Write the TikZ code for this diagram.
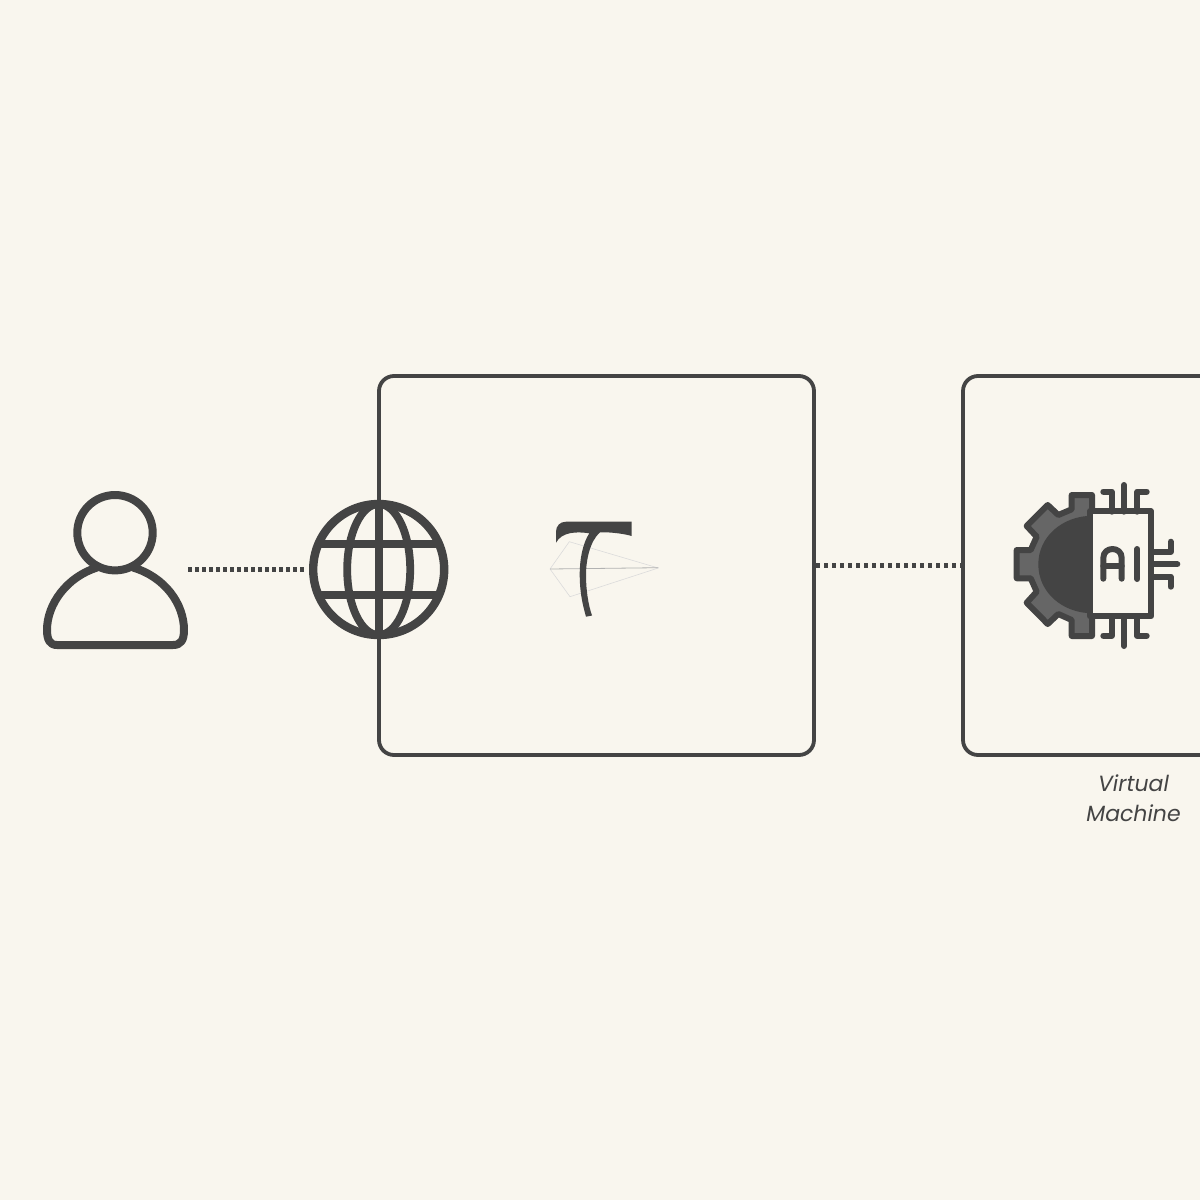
\documentclass[tikz,border=0pt]{standalone}
\usepackage{fontspec}
\setmainfont{Poppins}
\definecolor{paper}{HTML}{F9F6EE}
\definecolor{ink}{HTML}{444444}
\definecolor{gearfill}{HTML}{666666}
\begin{document}
\begin{tikzpicture}[x=1pt,y=-1pt,
  framebox/.style={draw=ink,line width=3.8pt,rounded corners=15pt,inner sep=0pt,outer sep=0pt,minimum height=379pt},
  dotline/.style={draw=ink,line width=4.4pt,dash pattern=on 4pt off 3pt},
  dotlinewide/.style={draw=ink,line width=4.4pt,dash pattern=on 4pt off 4pt},
  iconline/.style={draw=ink,line width=8pt,line join=round},
  globeline/.style={draw=ink,line width=7.8pt},
  chipline/.style={draw=ink,line width=6pt,line cap=round,line join=round},
  anchorbox/.style={inner sep=0pt,outer sep=0pt},
  plane/.style={line width=0.6pt,line join=round}]
\path[use as bounding box,fill=paper] (0,0) rectangle (1200,1200);
\clip (0,0) rectangle (1200,1200);
% frames
\node[framebox,minimum width=435pt] (box1) at (596.5,565.5) {};
\node[framebox,minimum width=435pt] (box2) at (1180.5,565.5) {};
% invisible extents of the icons
\node[anchorbox,minimum width=146pt,minimum height=160pt] (person) at (115.2,569.5) {};
\node[anchorbox,circle,minimum size=147pt] (globe) at (378.7,569.5) {};
% connectors
\draw[dotline] (person.east) -- (globe.west);
\draw[dotlinewide] ([xshift=2pt]box1.east) -- (box2.west);
% person
\draw[iconline] (115,532.7) circle (37.7);
\draw[iconline] (97,567.5) .. controls (67,577) and (47,604) .. (47,630)
  .. controls (47,640) and (50,645) .. (57,645) -- (173,645)
  .. controls (181,645) and (184,640) .. (184,630)
  .. controls (184,604) and (165,577) .. (133,567.5);
% globe
\draw[iconline,line width=8.4pt] (378.7,569.5) circle (65.5);
\draw[globeline] (378.7,569.5) ellipse (31.5 and 65.5);
\draw[globeline] (378.7,504) -- (378.7,635);
\draw[globeline] (319,544) -- (438,544);
\draw[globeline] (319,595) -- (438,595);
% logo: paper plane
\draw[plane,draw=black!14] (550,569) -- (569.3,541.7) -- (658.3,568) -- (570,596.7) -- cycle;
\draw[plane,draw=black!30,line width=0.8pt] (550,569) -- (658.3,567.7);
% logo: T
\fill[ink] (556,542.7) -- (556,531.7) .. controls (556,526) and (560,521.7) .. (566,521.7)
  -- (631.7,521.7) -- (631.7,536)
  .. controls (625,534) and (612,532) .. (600,532.3)
  .. controls (590,541) and (586,560) .. (586,575)
  .. controls (586,590) and (588.3,605) .. (592,615.5)
  -- (586,616.7)
  .. controls (582,603) and (579.7,590) .. (579.7,575)
  .. controls (579.7,558) and (583,543) .. (589.3,533.3)
  .. controls (577,531.5) and (562,531.5) .. (556,542.7) -- cycle;
% gear
\draw[draw=ink,fill=gearfill,line width=6pt,line join=round]
  (1092,495) -- (1071.7,495) -- (1071.7,509.3) -- (1058.3,515) -- (1047.7,505)
  -- (1026.7,526) -- (1036.7,536.7) -- (1030.7,550) -- (1016.7,550)
  -- (1016.7,578.3) -- (1030.7,578.3) -- (1036.7,591.7) -- (1026.7,602.7)
  -- (1047.7,624) -- (1058.3,614) -- (1071.7,620) -- (1071.7,636) -- (1092,636) -- cycle;
\fill[ink] (1093,515.7) .. controls (1062,515.7) and (1038.3,537) .. (1038.3,564.3)
  .. controls (1038.3,592) and (1062,613.3) .. (1093,613.3) -- cycle;
% chip
\draw[draw=ink,fill=paper,line width=6pt,line join=round] (1090,511.4) rectangle (1151,616.4);
\draw[chipline] (1124,511.7) -- (1124,485);
\draw[chipline] (1111.7,511.7) -- (1111.7,491.7) -- (1103.3,491.7);
\draw[chipline] (1137.3,511.7) -- (1137.3,491.7) -- (1146.7,491.7);
\draw[chipline] (1124,616.7) -- (1124,646);
\draw[chipline] (1111.7,616.7) -- (1111.7,635.7) -- (1103.3,635.7);
\draw[chipline] (1137.3,616.7) -- (1137.3,635.7) -- (1146.7,635.7);
\draw[chipline] (1151,564.3) -- (1177.3,564.3);
\draw[chipline] (1151,551.7) -- (1170.7,551.7) -- (1170.7,541.7);
\draw[chipline] (1151,576.7) -- (1170.7,576.7) -- (1170.7,586.7);
% AI
\draw[chipline] (1103.3,578.7) -- (1103.3,558) .. controls (1103.3,546) and (1121.7,546) .. (1121.7,558) -- (1121.7,578.7);
\draw[chipline] (1103.3,566) -- (1121.7,566);
\draw[chipline] (1137.3,549) -- (1137.3,579);
% label
\node[anchorbox,text=ink,font=\fontsize{22pt}{30pt}\selectfont\itshape,align=center] (vmlabel) at (1133.5,798.5) {Virtual\\Machine};
\end{tikzpicture}
\end{document}
